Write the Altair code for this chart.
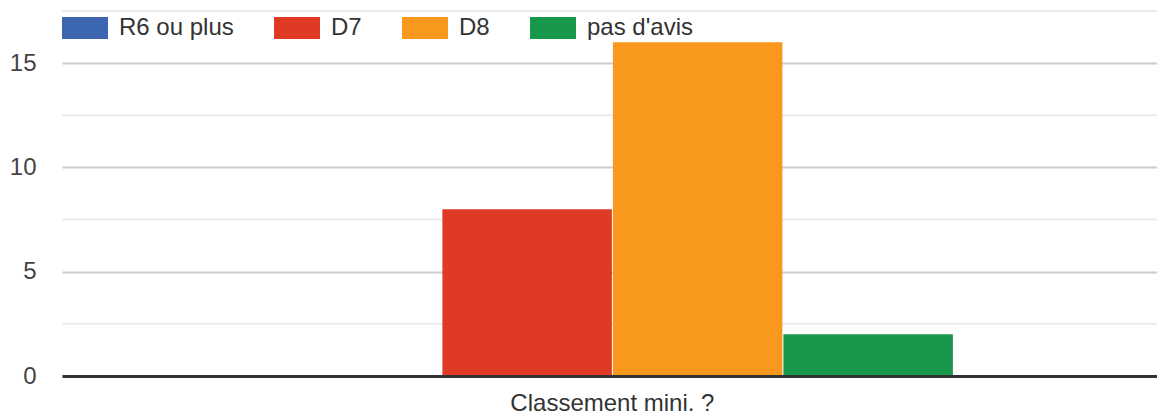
import altair as alt
import pandas as pd

categories = ["R6 ou plus", "D7", "D8", "pas d'avis"]
counts = [0, 8, 16, 2]
question = "Classement mini. ?"
colors = ["#3d66b0", "#de3a26", "#f8991d", "#17984a"]
major_ticks = [0, 5, 10, 15]
minor_ticks = [2.5, 7.5, 12.5, 17.5]

df = pd.DataFrame({"question": [question] * len(categories), "reponse": categories, "n": counts})
minor_df = pd.DataFrame({"v": minor_ticks})

font = "Liberation Sans"
y_scale = alt.Scale(domain=[0, 17.5], nice=False)
y_axis = alt.Axis(
    values=major_ticks, title=None, domain=False, ticks=False, labelPadding=26,
    labelFont=font, labelFontSize=24, labelColor="#444", gridColor="#cccccc", gridWidth=2,
)

minor = alt.Chart(minor_df).mark_rule(color="#ebebeb", strokeWidth=2).encode(
    y=alt.Y("v:Q", scale=y_scale, axis=y_axis)
)

bars = alt.Chart(df).mark_bar().encode(
    x=alt.X(
        "question:N",
        scale=alt.Scale(paddingOuter=0.304, paddingInner=0, align=0.507),
        axis=alt.Axis(
            title=None, labelAngle=0, labelFont=font, labelFontSize=24, labelColor="#333",
            labelPadding=15, labelLimit=0, ticks=False, domainColor="#333", domainWidth=3, zindex=1,
        ),
    ),
    xOffset=alt.XOffset("reponse:N", sort=categories, scale=alt.Scale(paddingInner=0.006)),
    y=alt.Y("n:Q", scale=y_scale, axis=y_axis),
    color=alt.Color(
        "reponse:N",
        sort=categories,
        scale=alt.Scale(domain=categories, range=colors),
        legend=alt.Legend(
            title=None, orient="none", legendX=0, legendY=-6, direction="horizontal",
            symbolType="M-1,-0.478H1V0.478H-1Z", symbolSize=2116, symbolStrokeWidth=0,
            symbolOpacity=1, labelFont=font, labelFontSize=24, labelColor="#333",
            labelOffset=11, columnPadding=40, labelLimit=0,
        ),
    ),
)

chart = alt.layer(minor, bars).properties(
    width=1095,
    height=365,
    padding={"left": 54, "top": 3, "right": 0, "bottom": 38},
    autosize=alt.AutoSizeParams(type="none"),
).configure_view(stroke=None)

chart.save("out.html", embed_options={"renderer": "svg", "actions": False})
